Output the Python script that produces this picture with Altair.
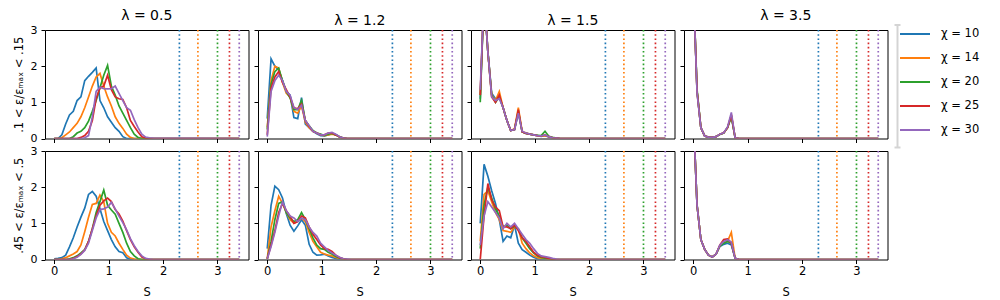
import altair as alt
import pandas as pd

# ---------------- data ----------------
S_GRID = [0.0, 0.07, 0.14, 0.21, 0.28, 0.35, 0.42, 0.49, 0.56, 0.63, 0.70, 0.77, 0.84, 0.91,
          0.98, 1.05, 1.12, 1.19, 1.26, 1.33, 1.40, 1.47, 1.54, 1.61, 1.68, 1.75, 1.82, 3.40]

CHI = [10, 14, 20, 25, 30]
CHI_LABELS = ["χ = 10", "χ = 14", "χ = 20", "χ = 25", "χ = 30"]
COLORS = ["#1f77b4", "#ff7f0e", "#2ca02c", "#d62728", "#9467bd"]
S_MAX = [2.30, 2.64, 3.00, 3.22, 3.40]          # dotted vertical lines (ln chi)
LAMBDAS = ["λ = 0.5", "λ = 1.2", "λ = 1.5", "λ = 3.5"]
ROW_LABELS = [".1 < ε/εₘₐₓ < .15", ".45 < ε/εₘₐₓ < .5"]

# row 1 (.1 < e/emax < .15), lambda = 0.5
top_l05_c10 = [0, 0, 0.1, 0.4, 0.65, 0.75, 1.05, 1.15, 1.6, 1.72, 1.83, 1.95, 1.05, 0.85, 0.6, 0.45, 0.3, 0.2, 0.05, 0, 0, 0, 0, 0, 0, 0, 0, 0]
top_l05_c14 = [0, 0, 0.02, 0.1, 0.18, 0.3, 0.42, 0.6, 0.85, 1.15, 1.45, 1.7, 1.8, 1.45, 1.15, 0.9, 0.6, 0.42, 0.28, 0.12, 0.03, 0, 0, 0, 0, 0, 0, 0]
top_l05_c20 = [0, 0, 0, 0, 0, 0.05, 0.15, 0.2, 0.3, 0.48, 0.75, 1.05, 1.4, 1.75, 2.02, 1.45, 1.2, 0.9, 0.7, 0.5, 0.3, 0.12, 0.03, 0, 0, 0, 0, 0]
top_l05_c25 = [0, 0, 0, 0, 0, 0, 0, 0.03, 0.08, 0.2, 0.5, 1.1, 1.4, 1.45, 1.75, 1.35, 1.15, 1.1, 1.08, 0.85, 0.5, 0.33, 0.18, 0.05, 0.01, 0, 0, 0]
top_l05_c30 = [0, 0, 0, 0, 0, 0, 0, 0, 0.02, 0.08, 0.6, 1.3, 1.42, 1.38, 1.37, 1.38, 1.45, 1.25, 1.05, 0.85, 0.78, 0.52, 0.3, 0.12, 0.04, 0.02, 0.01, 0]

# row 1, lambda = 1.2
top_l12_c10 = [0.55, 2.2, 2.0, 1.9, 1.6, 1.3, 1.2, 0.58, 0.55, 1.13, 0.4, 0.3, 0.2, 0.13, 0.08, 0.07, 0.1, 0.13, 0.1, 0.04, 0.01, 0, 0, 0, 0, 0, 0, 0]
top_l12_c14 = [0.3, 1.6, 2.0, 1.95, 1.55, 1.25, 1.15, 0.75, 0.7, 0.9, 0.45, 0.3, 0.2, 0.15, 0.1, 0.08, 0.1, 0.12, 0.1, 0.04, 0.01, 0, 0, 0, 0, 0, 0, 0]
top_l12_c20 = [0.25, 1.5, 1.85, 1.95, 1.6, 1.3, 1.12, 0.8, 0.8, 1.05, 0.5, 0.35, 0.22, 0.15, 0.12, 0.08, 0.12, 0.14, 0.1, 0.05, 0.01, 0, 0, 0, 0, 0, 0, 0]
top_l12_c25 = [0.1, 1.4, 1.7, 1.85, 1.55, 1.35, 1.15, 0.85, 0.82, 0.95, 0.5, 0.33, 0.2, 0.15, 0.1, 0.1, 0.15, 0.15, 0.1, 0.04, 0.01, 0, 0, 0, 0, 0, 0, 0]
top_l12_c30 = [0.05, 1.3, 1.6, 1.75, 1.6, 1.3, 1.2, 0.85, 0.8, 0.92, 0.5, 0.35, 0.2, 0.15, 0.1, 0.1, 0.15, 0.17, 0.12, 0.05, 0.01, 0, 0, 0, 0, 0, 0, 0]

# row 1, lambda = 1.5
top_l15_c10 = [1.1, 4.0, 2.4, 1.25, 1.1, 1.15, 0.85, 0.5, 0.22, 0.25, 0.72, 0.18, 0.14, 0.12, 0.1, 0.08, 0.06, 0.08, 0.04, 0.02, 0.01, 0, 0, 0, 0, 0, 0, 0]
top_l15_c14 = [1.2, 4.0, 2.4, 1.2, 1.05, 1.3, 0.85, 0.5, 0.22, 0.27, 0.85, 0.2, 0.15, 0.12, 0.1, 0.08, 0.07, 0.08, 0.05, 0.02, 0.01, 0, 0, 0, 0, 0, 0, 0]
top_l15_c20 = [1.0, 4.0, 2.4, 1.2, 1.0, 1.15, 0.85, 0.5, 0.22, 0.25, 0.75, 0.18, 0.14, 0.12, 0.1, 0.09, 0.08, 0.2, 0.06, 0.03, 0.01, 0, 0, 0, 0, 0, 0, 0]
top_l15_c25 = [1.2, 4.0, 2.4, 1.15, 1.0, 1.2, 0.85, 0.5, 0.22, 0.25, 0.8, 0.18, 0.14, 0.12, 0.1, 0.08, 0.07, 0.1, 0.05, 0.02, 0.01, 0, 0, 0, 0, 0, 0, 0]
top_l15_c30 = [1.35, 4.0, 2.4, 1.15, 1.05, 1.1, 0.85, 0.5, 0.22, 0.25, 0.7, 0.2, 0.15, 0.12, 0.1, 0.08, 0.07, 0.1, 0.05, 0.02, 0.01, 0, 0, 0, 0, 0, 0, 0]

# row 1, lambda = 3.5
top_l35_c10 = [4.3, 1.3, 0.3, 0.07, 0.04, 0.03, 0.05, 0.12, 0.15, 0.3, 0.62, 0.02, 0, 0, 0, 0, 0, 0, 0, 0, 0, 0, 0, 0, 0, 0, 0, 0]
top_l35_c14 = [4.3, 1.3, 0.3, 0.07, 0.04, 0.03, 0.05, 0.12, 0.15, 0.3, 0.65, 0.02, 0, 0, 0, 0, 0, 0, 0, 0, 0, 0, 0, 0, 0, 0, 0, 0]
top_l35_c20 = [4.3, 1.35, 0.3, 0.07, 0.04, 0.03, 0.05, 0.11, 0.15, 0.3, 0.6, 0.02, 0, 0, 0, 0, 0, 0, 0, 0, 0, 0, 0, 0, 0, 0, 0, 0]
top_l35_c25 = [4.3, 1.3, 0.3, 0.07, 0.04, 0.03, 0.05, 0.12, 0.16, 0.3, 0.65, 0.02, 0, 0, 0, 0, 0, 0, 0, 0, 0, 0, 0, 0, 0, 0, 0, 0]
top_l35_c30 = [4.3, 1.25, 0.3, 0.07, 0.04, 0.03, 0.05, 0.12, 0.16, 0.32, 0.72, 0.02, 0, 0, 0, 0, 0, 0, 0, 0, 0, 0, 0, 0, 0, 0, 0, 0]

# row 2 (.45 < e/emax < .5), lambda = 0.5
bot_l05_c10 = [0.02, 0.03, 0.05, 0.12, 0.35, 0.6, 0.9, 1.17, 1.42, 1.8, 1.88, 1.75, 1.4, 1.05, 0.8, 0.55, 0.35, 0.22, 0.19, 0.05, 0.01, 0, 0, 0, 0, 0, 0, 0]
bot_l05_c14 = [0, 0, 0.02, 0.05, 0.1, 0.15, 0.22, 0.4, 0.77, 1.17, 1.52, 1.55, 1.78, 1.6, 1.0, 0.75, 0.65, 0.45, 0.28, 0.12, 0.04, 0.01, 0, 0, 0, 0, 0, 0]
bot_l05_c20 = [0, 0, 0, 0, 0.02, 0.05, 0.1, 0.18, 0.27, 0.5, 0.85, 1.3, 1.6, 1.92, 1.5, 1.37, 1.25, 1.0, 0.75, 0.45, 0.22, 0.1, 0.02, 0, 0, 0, 0, 0]
bot_l05_c25 = [0, 0, 0, 0, 0, 0.03, 0.08, 0.15, 0.27, 0.5, 0.85, 1.2, 1.5, 1.62, 1.7, 1.6, 1.38, 1.26, 1.06, 0.8, 0.55, 0.35, 0.2, 0.07, 0.02, 0, 0, 0]
bot_l05_c30 = [0, 0, 0, 0, 0, 0.02, 0.06, 0.14, 0.25, 0.45, 0.8, 1.15, 1.38, 1.4, 1.45, 1.58, 1.4, 1.2, 1.02, 0.82, 0.58, 0.38, 0.22, 0.1, 0.03, 0.01, 0, 0]

# row 2, lambda = 1.2
bot_l12_c10 = [0.3, 1.5, 2.03, 1.93, 1.7, 1.27, 0.95, 0.78, 0.93, 1.1, 0.95, 0.42, 0.2, 0.12, 0.13, 0.15, 0.1, 0.06, 0.03, 0.01, 0, 0, 0, 0, 0, 0, 0, 0]
bot_l12_c14 = [0.02, 0.9, 1.35, 1.75, 1.55, 1.3, 1.1, 1.0, 1.05, 1.15, 1.05, 0.75, 0.5, 0.35, 0.2, 0.15, 0.12, 0.1, 0.06, 0.03, 0.01, 0, 0, 0, 0, 0, 0, 0]
bot_l12_c20 = [0.02, 0.5, 1.1, 1.55, 1.6, 1.3, 1.15, 1.05, 1.1, 1.3, 1.1, 0.85, 0.6, 0.4, 0.3, 0.28, 0.2, 0.15, 0.08, 0.04, 0.02, 0, 0, 0, 0, 0, 0, 0]
bot_l12_c25 = [0.02, 0.4, 0.8, 1.3, 1.55, 1.35, 1.2, 1.0, 1.05, 1.2, 1.15, 0.9, 0.7, 0.55, 0.4, 0.3, 0.28, 0.22, 0.12, 0.05, 0.02, 0, 0, 0, 0, 0, 0, 0]
bot_l12_c30 = [0.02, 0.35, 0.75, 1.2, 1.6, 1.35, 1.2, 1.15, 1.05, 1.15, 1.1, 0.9, 0.75, 0.65, 0.45, 0.35, 0.25, 0.18, 0.12, 0.06, 0.02, 0.01, 0, 0, 0, 0, 0, 0]

# row 2, lambda = 1.5
bot_l15_c10 = [1.0, 2.63, 2.3, 1.9, 1.55, 1.1, 0.5, 0.65, 0.6, 0.95, 0.45, 0.27, 0.2, 0.12, 0.06, 0.02, 0.01, 0, 0, 0, 0, 0, 0, 0, 0, 0, 0, 0]
bot_l15_c14 = [0.5, 1.8, 1.9, 1.6, 1.3, 1.1, 0.8, 0.78, 0.75, 0.9, 0.85, 0.45, 0.3, 0.18, 0.1, 0.05, 0.03, 0.02, 0.01, 0, 0, 0, 0, 0, 0, 0, 0, 0]
bot_l15_c20 = [0.3, 1.5, 2.0, 1.7, 1.4, 1.2, 0.9, 0.95, 0.85, 0.92, 0.85, 0.6, 0.45, 0.3, 0.18, 0.1, 0.06, 0.04, 0.02, 0.01, 0, 0, 0, 0, 0, 0, 0, 0]
bot_l15_c25 = [0.0, 1.2, 2.1, 1.65, 1.45, 1.35, 0.9, 0.9, 0.85, 0.95, 0.8, 0.6, 0.5, 0.35, 0.2, 0.12, 0.08, 0.06, 0.03, 0.01, 0, 0, 0, 0, 0, 0, 0, 0]
bot_l15_c30 = [0.4, 1.2, 1.6, 1.45, 1.3, 1.15, 0.85, 1.0, 0.9, 1.0, 0.85, 0.7, 0.55, 0.45, 0.3, 0.17, 0.1, 0.08, 0.06, 0.03, 0.01, 0, 0, 0, 0, 0, 0, 0]

# row 2, lambda = 3.5
bot_l35_c10 = [4.1, 1.5, 0.55, 0.28, 0.12, 0.07, 0.15, 0.36, 0.42, 0.45, 0.4, 0.03, 0, 0, 0, 0, 0, 0, 0, 0, 0, 0, 0, 0, 0, 0, 0, 0]
bot_l35_c14 = [4.1, 1.5, 0.55, 0.28, 0.12, 0.07, 0.15, 0.38, 0.48, 0.5, 0.75, 0.03, 0, 0, 0, 0, 0, 0, 0, 0, 0, 0, 0, 0, 0, 0, 0, 0]
bot_l35_c20 = [4.1, 1.5, 0.55, 0.28, 0.12, 0.07, 0.15, 0.38, 0.45, 0.5, 0.45, 0.03, 0, 0, 0, 0, 0, 0, 0, 0, 0, 0, 0, 0, 0, 0, 0, 0]
bot_l35_c25 = [4.1, 1.5, 0.55, 0.28, 0.12, 0.07, 0.15, 0.4, 0.55, 0.57, 0.45, 0.03, 0, 0, 0, 0, 0, 0, 0, 0, 0, 0, 0, 0, 0, 0, 0, 0]
bot_l35_c30 = [4.1, 1.5, 0.55, 0.28, 0.12, 0.07, 0.15, 0.4, 0.5, 0.55, 0.48, 0.03, 0, 0, 0, 0, 0, 0, 0, 0, 0, 0, 0, 0, 0, 0, 0, 0]

PANELS = {
    (0, 0): [top_l05_c10, top_l05_c14, top_l05_c20, top_l05_c25, top_l05_c30],
    (0, 1): [top_l12_c10, top_l12_c14, top_l12_c20, top_l12_c25, top_l12_c30],
    (0, 2): [top_l15_c10, top_l15_c14, top_l15_c20, top_l15_c25, top_l15_c30],
    (0, 3): [top_l35_c10, top_l35_c14, top_l35_c20, top_l35_c25, top_l35_c30],
    (1, 0): [bot_l05_c10, bot_l05_c14, bot_l05_c20, bot_l05_c25, bot_l05_c30],
    (1, 1): [bot_l12_c10, bot_l12_c14, bot_l12_c20, bot_l12_c25, bot_l12_c30],
    (1, 2): [bot_l15_c10, bot_l15_c14, bot_l15_c20, bot_l15_c25, bot_l15_c30],
    (1, 3): [bot_l35_c10, bot_l35_c14, bot_l35_c20, bot_l35_c25, bot_l35_c30],
}

# ---------------- build tables ----------------
FONT = "DejaVu Sans"
W, H = 203.5, 108.5
FS = 11.5

rules_df = pd.DataFrame({"S": S_MAX, "col": COLORS})

xscale = alt.Scale(domain=[-0.17, 3.57], nice=False, zero=False)
yscale = alt.Scale(domain=[0, 3], nice=False, zero=False)
cscale = alt.Scale(domain=CHI_LABELS, range=COLORS)

legend = alt.Legend(
    title=None, orient="none", legendX=854, legendY=-8,
    symbolType="stroke", symbolSize=900, symbolStrokeWidth=1.8,
    clipHeight=24, rowPadding=0, padding=0, labelOffset=10,
    labelFontSize=FS, labelFont=FONT, labelColor="black",
)


def panel(r, c):
    recs = []
    for lab, vals in zip(CHI_LABELS, PANELS[(r, c)]):
        for s, p in zip(S_GRID, vals):
            recs.append({"S": s, "P": p, "chi": lab})
    d = pd.DataFrame(recs)

    if r == 1:
        xenc = alt.X("S:Q", scale=xscale, title="S",
                     axis=alt.Axis(values=[0, 1, 2, 3], labels=True, format="d"))
    else:
        xenc = alt.X("S:Q", scale=xscale, title=None,
                     axis=alt.Axis(values=[0, 1, 2, 3], labels=False))
    if c == 0:
        yenc = alt.Y("P:Q", scale=yscale, title=ROW_LABELS[r],
                     axis=alt.Axis(values=[0, 1, 2, 3], labels=True, format="d"))
    else:
        yenc = alt.Y("P:Q", scale=yscale, title=None,
                     axis=alt.Axis(values=[0, 1, 2, 3], labels=False))

    rules = alt.Chart(rules_df).mark_rule(strokeDash=[1.6, 2.6], strokeWidth=1.7).encode(
        x=alt.X("S:Q", scale=xscale),
        color=alt.Color("col:N", scale=None),
    )
    lines = alt.Chart(d).mark_line(clip=True, strokeWidth=1.7).encode(
        x=xenc, y=yenc,
        color=alt.Color("chi:N", scale=cscale, legend=legend, sort=CHI_LABELS),
    )
    layers = [rules, lines]
    if r == 0 and c == 3:
        dummy = pd.DataFrame({"k": [0]})
        bracket = alt.Chart(dummy).mark_rule(color="#d4d4d4", strokeWidth=2).encode(
            x=alt.value(W + 10), y=alt.value(-5), y2=alt.value(H + 9))
        cap1 = alt.Chart(dummy).mark_rule(color="#d4d4d4", strokeWidth=2).encode(
            x=alt.value(W + 7), x2=alt.value(W + 13), y=alt.value(-5))
        cap2 = alt.Chart(dummy).mark_rule(color="#d4d4d4", strokeWidth=2).encode(
            x=alt.value(W + 7), x2=alt.value(W + 13), y=alt.value(H + 9))
        layers += [bracket, cap1, cap2]

    props = dict(width=W, height=H)
    if r == 0:
        props["title"] = alt.TitleParams(text=LAMBDAS[c], fontSize=14, fontWeight="normal",
                                         font=FONT, color="black", offset=1)
    return alt.layer(*layers).properties(**props)


cells = [panel(r, c) for r in range(2) for c in range(4)]

chart = alt.ConcatChart(
    concat=cells, columns=4, spacing={"row": 12, "column": 9}, bounds="flush"
).properties(
    padding={"left": 4, "top": 0, "right": 0, "bottom": 0}
).configure(
    font=FONT,
).configure_view(
    stroke="black", strokeWidth=1,
).configure_axis(
    domain=False, grid=False, ticks=True, tickSize=4, tickColor="black", tickWidth=1,
    labelFontSize=FS, labelFont=FONT, labelColor="black", labelPadding=3,
    titleFontSize=FS, titleFont=FONT, titleColor="black", titleFontWeight="normal",
).configure_axisX(
    labelPadding=2, titlePadding=9,
).configure_axisY(
    labelPadding=4, titlePadding=6, labelFontSize=11,
)

chart.save("out.html", embed_options={"renderer": "svg", "actions": False})
